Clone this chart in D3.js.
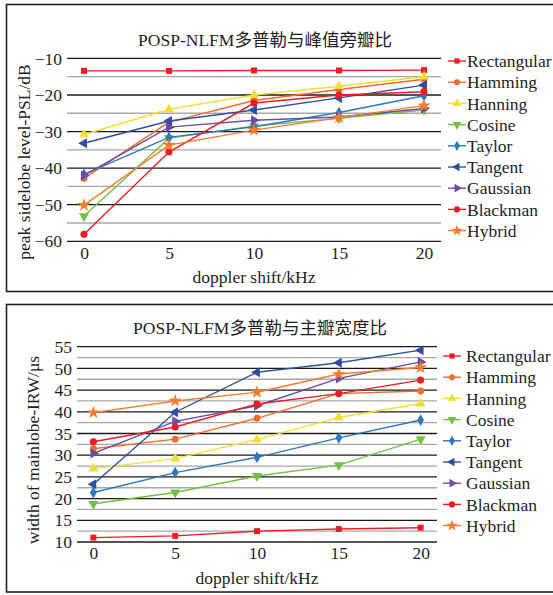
<!DOCTYPE html>
<html>
<head>
  <meta charset="utf-8">
  <title>POSP-NLFM</title>
  <script src="https://d3js.org/d3.v7.min.js"></script>
  <style>
    body { margin: 0; background: #fff; }
    svg { display: block; }
    text { font-family: "Liberation Serif", "Noto Sans CJK SC", serif; font-size: 17.5px; fill: #1e1e1e; }
    .frame { fill: none; stroke: #222; stroke-width: 1.6; }
    .major { stroke: #1a1a1a; stroke-width: 1.3; }
    .minor { stroke: #a8a8a8; stroke-width: 1.3; }
    .series { fill: none; stroke-width: 1.4; }
  </style>
</head>
<body>
  <svg id="chart" width="553" height="595"></svg>

  <script>
    // shared x values and series names
    const doppler = [0, 5, 10, 15, 20];
    const names = ["Rectangular", "Hamming", "Hanning", "Cosine", "Taylor",
                   "Tangent", "Gaussian", "Blackman", "Hybrid"];
    const colors = ["#ee1d23", "#f26b2e", "#f2df36", "#72bf44", "#2a78c2",
                    "#2d4fa3", "#6b4ea1", "#ed1c24", "#f47c30"];

    // peak sidelobe level (dB)
    const pslRectangular = [-13.4, -13.4, -13.3, -13.3, -13.2];
    const pslHamming     = [-42.8, -27.4, -21.5, -18.5, -15.7];
    const pslHanning     = [-30.8, -23.9, -20.0, -17.6, -15.0];
    const pslCosine      = [-53.1, -31.8, -28.5, -26.4, -24.1];
    const pslTaylor      = [-41.7, -31.6, -28.7, -24.8, -20.2];
    const pslTangent     = [-33.2, -27.1, -24.1, -20.8, -17.3];
    const pslGaussian    = [-42.0, -28.8, -26.9, -26.0, -23.7];
    const pslBlackman    = [-58.1, -35.6, -22.2, -20.0, -19.1];
    const pslHybrid      = [-50.1, -33.7, -29.6, -26.2, -22.9];

    // mainlobe width (us)
    const irwRectangular = [11.0, 11.4, 12.5, 13.0, 13.3];
    const irwHamming     = [31.5, 33.7, 38.5, 44.2, 44.8];
    const irwHanning     = [26.9, 29.2, 33.6, 38.7, 41.9];
    const irwCosine      = [18.8, 21.4, 25.2, 27.7, 33.7];
    const irwTaylor      = [21.4, 26.0, 29.5, 34.0, 38.1];
    const irwTangent     = [23.3, 39.9, 49.1, 51.3, 54.2];
    const irwGaussian    = [30.4, 37.8, 41.4, 47.7, 51.5];
    const irwBlackman    = [33.1, 36.5, 41.8, 44.2, 47.3];
    const irwHybrid      = [39.8, 42.5, 44.5, 48.7, 50.2];

    const pslTicks = [-10, -20, -30, -40, -50, -60];
    const irwTicks = [10, 15, 20, 25, 30, 35, 40, 45, 50, 55];

    const svg = d3.select("#chart");

    // marker shape for each series: [symbol type, rotation]
    const markers = [
      [d3.symbolSquare, 0], [d3.symbolCircle, 0], [d3.symbolTriangle, 0],
      [d3.symbolTriangle, 180], [d3.symbolDiamond, 0], [d3.symbolTriangle, -90],
      [d3.symbolTriangle, 90], [d3.symbolCircle, 0], [d3.symbolStar, 0]
    ];
    const markerSize = [36, 38, 44, 44, 40, 44, 44, 40, 55];

    function drawChart(cfg) {
      const g = svg.append("g");

      g.append("rect").attr("class", "frame")
        .attr("x", cfg.frame[0]).attr("y", cfg.frame[1])
        .attr("width", cfg.frame[2]).attr("height", cfg.frame[3]);

      const x = d3.scaleLinear().domain([-1, 21]).range(cfg.xRange);
      const y = d3.scaleLinear().domain(cfg.yDomain).range(cfg.yRange);

      // grid: majors at labelled ticks, minors halfway
      const minor = cfg.ticks.slice(1).map((t, i) => (t + cfg.ticks[i]) / 2);
      g.selectAll(".minor").data(minor).enter().append("line")
        .attr("class", "minor")
        .attr("x1", cfg.xRange[0]).attr("x2", cfg.xRange[1])
        .attr("y1", d => y(d)).attr("y2", d => y(d));
      g.selectAll(".major").data(cfg.ticks).enter().append("line")
        .attr("class", "major")
        .attr("x1", cfg.xRange[0]).attr("x2", cfg.xRange[1])
        .attr("y1", d => y(d)).attr("y2", d => y(d));

      // axes
      const yAxis = g.append("g")
        .attr("transform", `translate(${cfg.xRange[0]},0)`)
        .call(d3.axisLeft(y).tickValues(cfg.ticks).tickSize(0).tickPadding(5)
          .tickFormat(d => d < 0 ? "\u2212" + Math.abs(d) : d));
      const xAxis = g.append("g")
        .attr("transform", `translate(0,${cfg.yRange[0]})`)
        .call(d3.axisBottom(x).tickValues(doppler).tickSize(0).tickPadding(5));
      [yAxis, xAxis].forEach(a => {
        a.select(".domain").remove();
        a.attr("font-size", null).attr("font-family", null);
        a.selectAll("text").style("fill", "#1e1e1e");
      });

      // titles
      g.append("text").attr("x", cfg.titlePos[0]).attr("y", cfg.titlePos[1])
        .attr("text-anchor", "middle").text(cfg.title);
      g.append("text").attr("x", (cfg.xRange[0] + cfg.xRange[1]) / 2)
        .attr("y", cfg.xLabelY).attr("text-anchor", "middle")
        .text("doppler shift/kHz");
      g.append("text")
        .attr("transform", `translate(${cfg.yLabelPos[0]},${cfg.yLabelPos[1]}) rotate(-90)`)
        .attr("text-anchor", "middle").text(cfg.yLabel);

      // series
      const line = d3.line().x((d, i) => x(doppler[i])).y(d => y(d));
      cfg.series.forEach((vals, k) => {
        g.append("path").attr("class", "series")
          .attr("stroke", colors[k]).attr("d", line(vals));
        g.selectAll(null).data(vals).enter().append("path")
          .attr("fill", colors[k])
          .attr("d", d3.symbol().type(markers[k][0]).size(markerSize[k]))
          .attr("transform", (d, i) => `translate(${x(doppler[i])},${y(d)}) rotate(${markers[k][1]})`);
      });

      // legend
      const lg = g.append("g");
      names.forEach((name, k) => {
        const ly = cfg.legend[2] + k * 21.2;
        lg.append("line")
          .attr("x1", cfg.legend[0]).attr("x2", cfg.legend[0] + 18)
          .attr("y1", ly).attr("y2", ly)
          .attr("stroke", colors[k]).attr("stroke-width", 1.4);
        lg.append("path").attr("fill", colors[k])
          .attr("d", d3.symbol().type(markers[k][0]).size(markerSize[k] * 0.75))
          .attr("transform", `translate(${cfg.legend[0] + 9},${ly}) rotate(${markers[k][1]})`);
        lg.append("text").attr("x", cfg.legend[1]).attr("y", ly)
          .attr("dy", "0.35em").text(name);
      });
    }

    drawChart({
      frame: [6.5, 4.5, 550, 287],
      xRange: [67, 441],
      yDomain: [-60, -10],
      yRange: [241.3, 58.4],
      ticks: pslTicks,
      title: "POSP-NLFM多普勒与峰值旁瓣比",
      titlePos: [265, 46],
      xLabelY: 283,
      yLabel: "peak sidelobe level-PSL/dB",
      yLabelPos: [30, 162],
      legend: [448, 467, 61],
      series: [pslRectangular, pslHamming, pslHanning, pslCosine, pslTaylor,
               pslTangent, pslGaussian, pslBlackman, pslHybrid]
    });

    drawChart({
      frame: [6.5, 304.5, 550, 287.5],
      xRange: [77, 437],
      yDomain: [10, 55],
      yRange: [542, 346.7],
      ticks: irwTicks,
      title: "POSP-NLFM多普勒与主瓣宽度比",
      titlePos: [260, 334],
      xLabelY: 584,
      yLabel: "width of mainlobe-IRW/\u03bcs",
      yLabelPos: [39, 450],
      legend: [443, 466, 356],
      series: [irwRectangular, irwHamming, irwHanning, irwCosine, irwTaylor,
               irwTangent, irwGaussian, irwBlackman, irwHybrid]
    });
  </script>
</body>
</html>
